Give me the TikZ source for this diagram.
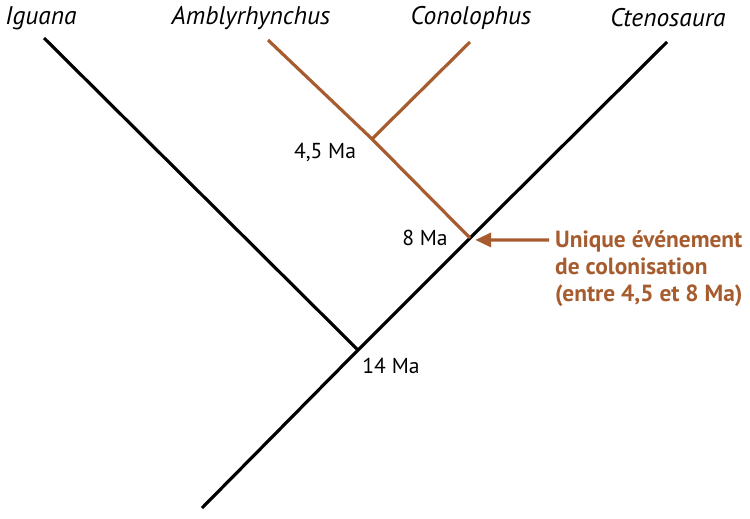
\documentclass[tikz,border=0pt]{standalone}
\usepackage{fontspec}
\setmainfont{PT Sans}
\usepackage{tikz}
\usetikzlibrary{arrows.meta}
\definecolor{brun}{RGB}{166,92,46}
\begin{document}
\begin{tikzpicture}[x=0.02cm,y=-0.02cm,
  branche/.style={line width=1.8pt},
  espece/.style={font=\fontsize{14.5}{16}\selectfont\itshape},
  age/.style={font=\fontsize{12.3}{14}\selectfont}]
              \useasboundingbox(0,0)rectangle(750,518);
              % noeuds de l'arbre
              \coordinate(r)at(202,508);
              \coordinate(n14)at(358,350);
              \coordinate(n8)at(470,238);
              \coordinate(n45)at(372,139);
              \coordinate(ig)at(44,38);
              \coordinate(am)at(268,40);
              \coordinate(co)at(470,42);
              \coordinate(ct)at(667,42);
              \draw[branche](r)--(n14)--(n8)--(ct);
              \draw[branche](n14)--(ig);
              \draw[branche,brun](n8)--(n45)--(am);
              \draw[branche,brun](n45)--(co);
              \foreach \p/\x/\t in {ig/41/Iguana, am/251/Amblyrhynchus, co/471/Conolophus, ct/668/Ctenosaura}
                \node[espece](t\p)at(\x,18){\t};
              \node[age](a45)at(325,152){4,5 Ma};
              \node[age](a8)at(425,238){8 Ma};
              \node[age](a14)at(391,366){14 Ma};
              \node[font=\fontsize{13.3}{15.6}\selectfont\bfseries,color=brun,align=left,anchor=north west](ev)at(549,224){Unique événement\\de colonisation\\(entre 4,5 et 8 Ma)};
              \draw[-{Triangle[length=9pt,width=8pt]},brun,line width=1.8pt](ev.west|-n8)++(0,2)--([xshift=3pt,yshift=-1.1pt]n8);
            \end{tikzpicture}
\end{document}
